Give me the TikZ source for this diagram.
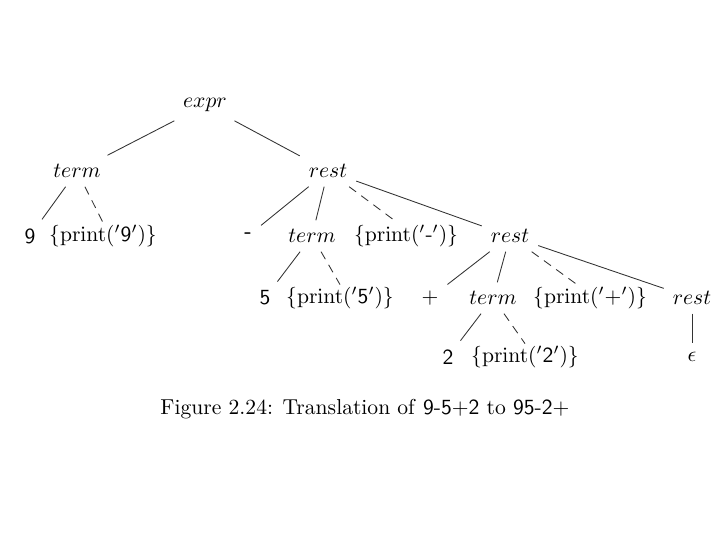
\documentclass[tikz,border=0pt]{standalone}
\usepackage{amsmath,amssymb}
\usepackage{xcolor}
\usepackage{tikz}
\usetikzlibrary{calc,positioning}
\definecolor{linec}{HTML}{333333}
\tikzset{
  sy/.style={inner sep=4pt},
  pa/.style={inner sep=1pt},
  ed/.style={linec,thin},
  act/.style={linec,thin,dashed,dash pattern=on 4pt off 3pt}
}
\newcommand{\tm}[1]{\textsf{#1}}
\newcommand{\pr}[1]{$\{\mathrm{print}(\mbox{$'$}\tm{#1}\mbox{$'$})\}$}

\begin{document}
\begin{tikzpicture}[x=0.463pt,y=-0.463pt]
\useasboundingbox (0,0) rectangle (720,540);
% level 0 and 1
\node[sy] (expr) at (205,105) {$expr$};
\node[sy] (t1) at (77,171) {$term$};
\node[sy] (r1) at (328,171) {$rest$};
% level 2
\node[sy] (n9) at (30,236) {\tm{9}};
\node[pa] (p9) at (103,236) {\pr{9}};
\node[sy] (mi) at (248,236) {\tm{\bfseries -}};
\node[sy] (t2) at (312,236) {$term$};
\node[pa] (pm) at (406,236) {\pr{-}};
\node[sy] (r2) at (510,236) {$rest$};
% level 3
\node[sy] (n5) at (265,298) {\tm{5}};
\node[pa] (p5) at (340,298) {\pr{5}};
\node[sy] (pl) at (430,298) {\tm{+}};
\node[sy] (t3) at (493,298) {$term$};
\node[pa] (pp) at (590,298) {\pr{+}};
\node[sy] (r3) at (692,298) {$rest$};
% level 4
\node[sy] (n2) at (448,357) {\tm{2}};
\node[pa] (p2) at (525,357) {\pr{2}};
\node[sy] (eps) at (692,357) {$\epsilon$};
% caption
\node (cap) at (365,409) {Figure 2.24: Translation of \tm{9-5+2} to \tm{95-2+}};
% edges
\draw[ed] (expr) -- (t1);
\draw[ed] (expr) -- (r1);
\draw[ed] (t1) -- (n9);
\draw[act] (t1) -- (p9.north);
\draw[ed] (r1) -- (mi);
\draw[ed] (r1) -- (t2);
\draw[act] (r1) -- ([xshift=-4]pm.north);
\draw[ed] (r1) -- (r2);
\draw[ed] (t2) -- (n5);
\draw[act] (t2) -- (p5.north);
\draw[ed] (r2) -- (pl);
\draw[ed] (r2) -- (t3);
\draw[act] (r2) -- ([xshift=-6]pp.north);
\draw[ed] (r2) -- (r3);
\draw[ed] (t3) -- (n2);
\draw[act] (t3) -- (p2.north);
\draw[ed] (r3) -- (eps);
\end{tikzpicture}
\end{document}
